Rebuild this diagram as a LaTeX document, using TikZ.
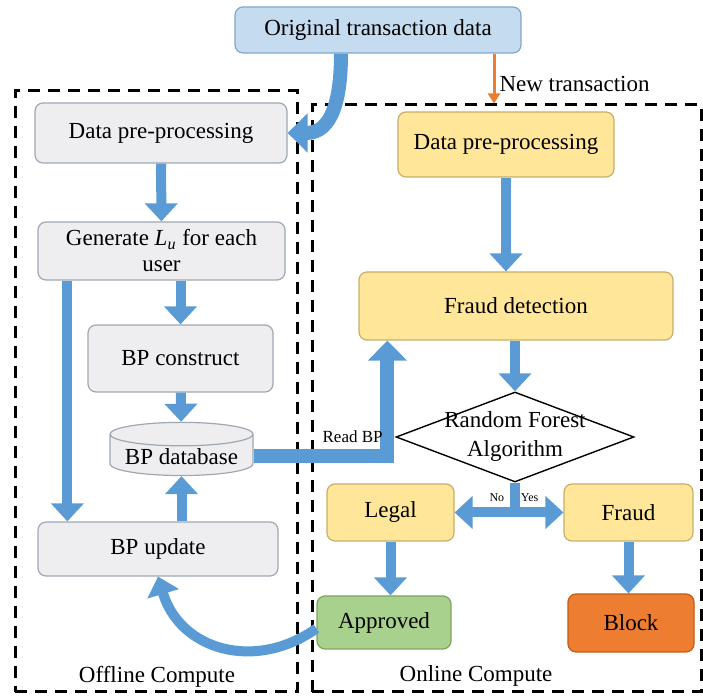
\documentclass[tikz,border=0pt]{standalone}
\usepackage{fontspec}
\setmainfont{Liberation Serif}
\usetikzlibrary{shapes.geometric,arrows.meta,positioning}
\definecolor{arrowblue}{HTML}{5B9BD5}
\definecolor{boxblue}{HTML}{C5DCF0}
\definecolor{edgeblue}{HTML}{7FA7CE}
\definecolor{boxgray}{HTML}{EEEEF0}
\definecolor{edgegray}{HTML}{9FA8B2}
\definecolor{boxyellow}{HTML}{FFE699}
\definecolor{edgeyellow}{HTML}{C7AE6A}
\definecolor{boxgreen}{HTML}{A9D18E}
\definecolor{edgegreen}{HTML}{7EA35F}
\definecolor{boxorange}{HTML}{ED7D31}
\definecolor{edgeorange}{HTML}{C55A11}
\begin{document}
\begin{tikzpicture}[x=0.5pt,y=0.5pt,
    every node/.style={font=\fontsize{11.5}{13}\selectfont},
    box/.style={rectangle, rounded corners=4pt, draw, line width=0.6pt, align=center, inner sep=2pt},
    offbox/.style={box, draw=edgegray, fill=boxgray},
    onbox/.style={box, draw=edgeyellow, fill=boxyellow},
    zone/.style={draw, line width=1.5pt, dash pattern=on 6pt off 4pt, inner sep=0pt},
    flow/.style={draw=arrowblue, line width=5pt, -{Triangle[width=16pt,length=9pt]}},
    wideflow/.style={draw=arrowblue, line width=7pt, -{Triangle[width=19pt,length=10pt]}},
    newflow/.style={draw=boxorange, line width=1.5pt, -{Triangle[width=6pt,length=5pt]}},
    smalltext/.style={font=\fontsize{8.5}{10}\selectfont},
    tinytext/.style={font=\fontsize{6}{7}\selectfont, inner sep=1pt}]
    \useasboundingbox (0,0) rectangle (703,-699);
    \node[zone, minimum width=141pt, minimum height=300.5pt] (offline) at (156,-391.5) {};
    \node[zone, minimum width=194.5pt, minimum height=293.5pt] (online) at (506.5,-398.5) {};
    \node[box, draw=edgeblue, fill=boxblue, minimum width=143pt, minimum height=23pt] (orig) at (378,-30) {Original transaction data};
    \node[offbox, minimum width=126pt, minimum height=30pt] (ldpp) at (161,-133) {Data pre-processing};
    \node[offbox, minimum width=123.5pt, minimum height=29pt] (gen) at (161.5,-251) {Generate \textit{L}\textsubscript{\textit{u}} for each\\user};
    \node[offbox, minimum width=92.5pt, minimum height=33.5pt] (bpc) at (180.5,-358.5) {BP construct};
    \node[cylinder, shape border rotate=90, aspect=0.2, draw=edgegray, fill=boxgray, line width=0.6pt, minimum width=71.5pt, minimum height=24.5pt, inner sep=1pt] (bpdb) at (181.5,-456.5) {BP database};
    \node[offbox, minimum width=120pt, minimum height=27pt] (bpu) at (158,-549) {BP update};
    \node[onbox, minimum width=108pt, minimum height=32.5pt] (rdpp) at (506,-144.5) {Data pre-processing};
    \node[onbox, minimum width=157pt, minimum height=34pt] (fd) at (516,-306) {Fraud detection};
    \node[diamond, draw, line width=0.7pt, minimum width=119pt, minimum height=45pt, inner sep=0pt,
        label={[align=center, font=\fontsize{11.5}{14.5}\selectfont]center:Random Forest\\Algorithm}] (rf) at (515,-437) {};
    \node[onbox, minimum width=63.5pt, minimum height=28.5pt] (legal) at (390.5,-512.5) {Legal};
    \node[onbox, minimum width=64.5pt, minimum height=28.5pt] (fraud) at (628.5,-512.5) {Fraud};
    \node[box, draw=edgegreen, fill=boxgreen, minimum width=67pt, minimum height=26.5pt] (appr) at (384,-622.5) {Approved};
    \node[box, draw=edgeorange, fill=boxorange, minimum width=63pt, minimum height=29pt] (block) at (631,-623) {Block};
    \node (offlbl) at (157,-677) {Offline Compute};
    \node (onlbl) at (476,-676) {Online Compute};
    \draw[wideflow] ([xshift=-18.5pt]orig.south) to[out=-90,in=0,looseness=1.2] (ldpp.east);
    \draw[newflow] ([xshift=58pt]orig.south) -- ([xshift=58pt]orig.south |- online.north) node[pos=0.6,right,inner sep=2pt] {New transaction};
    \draw[flow] (ldpp) -- (gen);
    \draw[flow] (bpc |- gen.south) -- (bpc);
    \draw[flow] (bpc) -- (bpdb);
    \draw[flow] ([xshift=15pt]gen.south west) -- ([xshift=15pt]gen.south west |- bpu.north);
    \draw[flow] (bpdb |- bpu.north) -- (bpdb);
    \draw[wideflow] (bpdb.east) -| ([xshift=14.5pt]fd.south west) node[pos=0.37,above,smalltext] {Read BP};
    \draw[flow] (rdpp.south) -- (rdpp.south |- fd.north);
    \draw[flow] (rf |- fd.south) -- (rf.north);
    \coordinate (split) at (rf.south |- legal.east);
    \draw[draw=arrowblue, line width=5pt] (rf.south) -- (split);
    \draw[flow] (split) -- (legal.east) node[pos=0.3,above,tinytext,yshift=2pt] {No};
    \draw[flow] (split) -- (fraud.west) node[pos=0.3,above,tinytext,yshift=2pt] {Yes};
    \draw[flow] (legal.south) -- (legal.south |- appr.north);
    \draw[flow] (fraud.south) -- (fraud.south |- block.north);
    \draw[flow] ([yshift=-3pt]appr.west) .. controls (255,-672) and (180,-650) .. (bpu.south);
\end{tikzpicture}
\end{document}
